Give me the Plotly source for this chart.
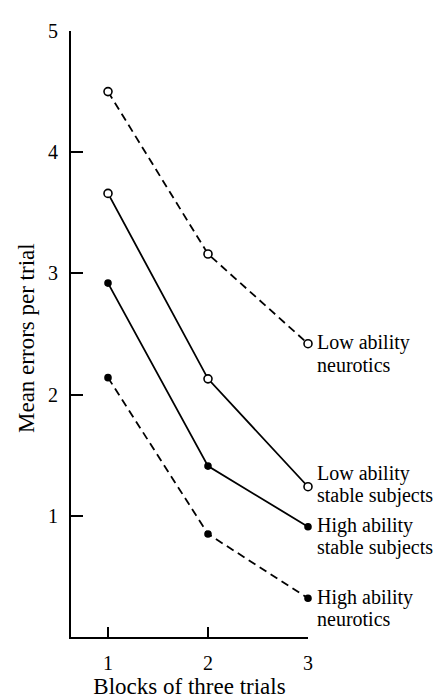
import plotly.graph_objects as go

blocks = [1, 2, 3]
low_neurotic = [4.50, 3.16, 2.42]
low_stable = [3.66, 2.13, 1.24]
high_stable = [2.92, 1.41, 0.91]
high_neurotic = [2.14, 0.85, 0.32]

x_ticks = [1, 2, 3]
y_ticks = [1, 2, 3, 4, 5]

series = [
    ("Low ability", "neurotics", low_neurotic, "dash", True, 0),
    ("Low ability", "stable subjects", low_stable, "solid", True, 12),
    ("High ability", "stable subjects", high_stable, "solid", False, 0),
    ("High ability", "neurotics", high_neurotic, "dash", False, 0),
]

FONT = "Liberation Serif"
fig = go.Figure()
annotations = []
for line1, line2, vals, dash, hollow, up in series:
    fig.add_trace(go.Scatter(
        x=blocks, y=vals, mode="lines+markers", cliponaxis=False,
        line=dict(color="black", width=1.8, dash="8px,5px" if dash == "dash" else "solid"),
        marker=dict(symbol="circle", size=8 if hollow else 6,
                    color="white" if hollow else "black",
                    line=dict(color="black", width=1.6)),
        showlegend=False, hoverinfo="skip"))
    for text, dy in ((line1, up + 1), (line2, up + 1 - 22)):
        annotations.append(dict(x=blocks[-1], y=vals[-1], xref="x", yref="y", text=text,
                                showarrow=False, xanchor="left", yanchor="middle", borderpad=0,
                                xshift=8, yshift=dy, font=dict(family=FONT, size=20, color="black")))

annotations.append(dict(x=0, y=0.5, xref="paper", yref="paper", text="Mean errors per trial",
                        textangle=-90, showarrow=False, xanchor="center", yanchor="middle",
                        xshift=-45, yshift=-4, font=dict(family=FONT, size=23, color="black")))

fig.update_layout(
    width=448, height=698,
    margin=dict(l=63, r=148, t=20, b=57),
    paper_bgcolor="white", plot_bgcolor="white",
    font=dict(family=FONT, size=20, color="black"),
    annotations=annotations,
    xaxis=dict(range=[0.63, 3.0], tickvals=x_ticks, ticktext=[str(v) for v in x_ticks],
               ticks="inside", ticklen=10, tickwidth=1.6, tickcolor="black",
               showline=True, linecolor="black", linewidth=2, showgrid=False, zeroline=False,
               ticklabelstandoff=7,
               title=dict(text="Blocks of three trials", standoff=4, font=dict(size=23))),
    yaxis=dict(range=[0, 5], tickvals=y_ticks, ticktext=[str(v) for v in y_ticks],
               ticks="inside", ticklen=12, tickwidth=1.6, tickcolor="black",
               showline=True, linecolor="black", linewidth=2, showgrid=False, zeroline=False,
               ticklabelstandoff=7),
)
fig.write_html("out.html")
